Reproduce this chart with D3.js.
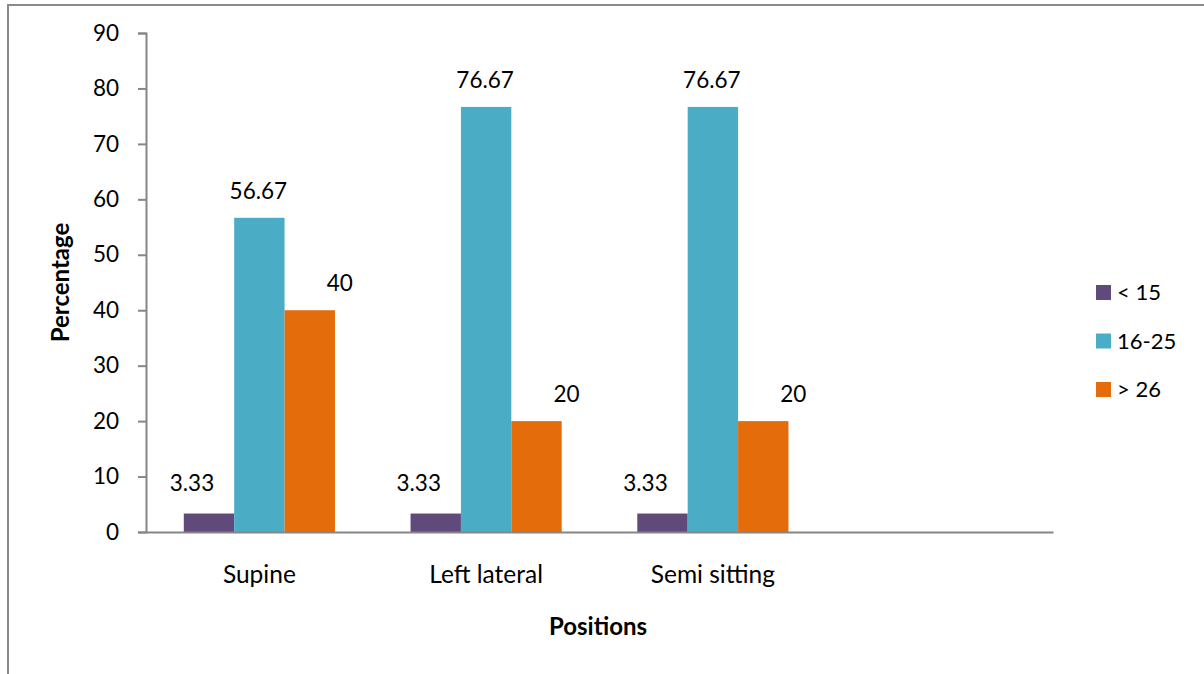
<!DOCTYPE html>
<html>
<head>
<meta charset="utf-8">
<script src="https://cdn.jsdelivr.net/npm/d3@7"></script>
<style>
  html, body { margin: 0; padding: 0; background: #fff; }
  svg { display: block; font-family: Lato, "Open Sans", sans-serif; }
</style>
</head>
<body>
<svg id="chart" width="1204" height="674"></svg>
<script>
// Positions (the last slot is left empty on the axis)
const categories = ["Supine", "Left lateral", "Semi sitting", ""];
const seriesNames = ["< 15", "16-25", "> 26"];
const lessThan15 = [3.33, 3.33, 3.33, null];
const from16to25 = [56.67, 76.67, 76.67, null];
const over26 = [40, 20, 20, null];
const yTicks = [0, 10, 20, 30, 40, 50, 60, 70, 80, 90];

const seriesValues = [lessThan15, from16to25, over26];
const colors = ["#604A7B", "#4BACC6", "#E46C0A"];
const labelShift = [-17, -1, 30];
const labelLift = [23, 19, 19];

const svg = d3.select("#chart");
const plot = { left: 146, right: 1053, top: 33, bottom: 532 };

// outer frame
svg.append("path")
  .attr("d", "M8,674 V5 H1204")
  .attr("fill", "none")
  .attr("stroke", "#8a8a8a")
  .attr("stroke-width", 2);

const x = d3.scaleBand()
  .domain(categories.map((c, i) => i))
  .range([plot.left, plot.right])
  .paddingInner(0).paddingOuter(0);

const barW = x.bandwidth() / 4.5;
const xs = d3.scaleBand()
  .domain(seriesNames)
  .range([0, barW * 3]);

const y = d3.scaleLinear().domain([0, 90]).range([plot.bottom, plot.top]);

// bars
const groups = svg.append("g").selectAll("g")
  .data(categories.map((c, i) => i))
  .join("g")
  .attr("transform", i => `translate(${x(i) + (x.bandwidth() - barW * 3) / 2},0)`);

const cells = i => seriesValues.map((vals, s) => ({ s, v: vals[i] })).filter(d => d.v != null);

groups.selectAll("rect")
  .data(cells)
  .join("rect")
  .attr("x", d => xs(seriesNames[d.s]))
  .attr("width", xs.bandwidth())
  .attr("y", d => y(d.v))
  .attr("height", d => y(0) - y(d.v))
  .attr("fill", d => colors[d.s]);

groups.selectAll("text")
  .data(cells)
  .join("text")
  .attr("x", d => xs(seriesNames[d.s]) + xs.bandwidth() / 2 + labelShift[d.s])
  .attr("y", d => y(d.v) - labelLift[d.s])
  .attr("text-anchor", "middle")
  .attr("font-size", 22.5)
  .attr("fill", "#000")
  .text(d => d.v);

// y axis
const yAxis = svg.append("g")
  .attr("transform", `translate(${plot.left},0)`)
  .call(d3.axisLeft(y).tickValues(yTicks).tickSize(8).tickSizeOuter(8).tickPadding(19));
yAxis.selectAll("path, line").attr("stroke", "#868686").attr("stroke-width", 2);
yAxis.selectAll("text").attr("font-size", 22.5).attr("fill", "#000").attr("font-family", "Lato, sans-serif");

// x axis
const xAxis = svg.append("g")
  .attr("transform", `translate(0,${plot.bottom})`)
  .call(d3.axisBottom(x).tickSize(0).tickSizeOuter(0).tickPadding(34).tickFormat(i => categories[i]));
xAxis.selectAll("path").attr("stroke", "#868686").attr("stroke-width", 2);
xAxis.selectAll("text").attr("font-size", 24.5).attr("fill", "#000").attr("font-family", "Lato, sans-serif");

// axis titles
svg.append("text")
  .attr("transform", `translate(69,${(plot.top + plot.bottom) / 2}) rotate(-90)`)
  .attr("text-anchor", "middle")
  .attr("font-size", 24)
  .attr("font-weight", "bold")
  .text("Percentage");

svg.append("text")
  .attr("x", 598)
  .attr("y", 635)
  .attr("text-anchor", "middle")
  .attr("font-size", 24)
  .attr("font-weight", "bold")
  .text("Positions");

// legend
const legend = svg.append("g").attr("transform", "translate(1096,285)");
const items = legend.selectAll("g")
  .data(seriesNames)
  .join("g")
  .attr("transform", (d, i) => `translate(0,${i * 48.5})`);
items.append("rect")
  .attr("width", 15).attr("height", 15)
  .attr("fill", (d, i) => colors[i]);
items.append("text")
  .attr("x", 21).attr("y", 15)
  .attr("font-size", 22)
  .text(d => d);
</script>
</body>
</html>
